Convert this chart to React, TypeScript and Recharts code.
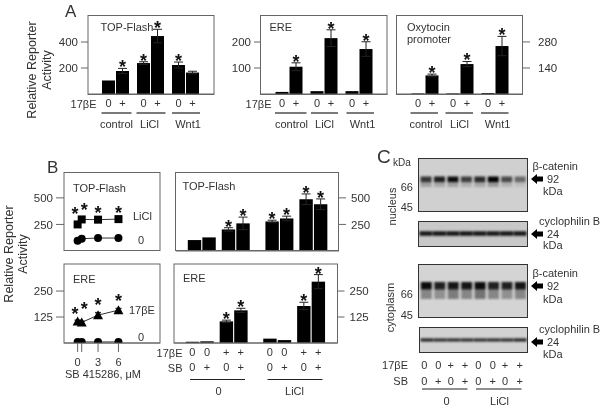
import React from 'react';
import { BarChart, Bar, Cell, ComposedChart, ErrorBar, Line, XAxis, YAxis } from 'recharts';

const font = '"Liberation Sans", Arial, sans-serif';
const ink = '#333';
const edge = '#666';

// panel A, three reporters
const groupRowA = ['0', '+', '0', '+', '0', '+'];
const topFlashA = [104, 177, 238, 446, 223, 165];
const topFlashAErr = [0, 20, 10, 52, 23, 10];
const topFlashAStar = [0, 1, 1, 1, 1, 0];
const ereA = [8, 105, 11, 215, 11, 173];
const ereAErr = [0, 15, 0, 32, 0, 28];
const ereAStar = [0, 1, 0, 1, 0, 1];
const oxytocinA = [3, 100, 3, 161, 5, 258];
const oxytocinAErr = [0, 7, 0, 14, 0, 52];
const oxytocinAStar = [0, 1, 0, 1, 0, 1];

// panel B, dose response
const doses = [0, 0.6, 3, 6];
const doseTicks = [0, 0.6, 3, 6];
const topLiCl = [250, 297, 295, 300];
const topZero = [97, 116, 122, 122];
const topDoseStar = [388, 428, 397, 397];
const ereE2 = [104, 99, 134, 158];
const ereE2Err = [6, 6, 12, 8];
const ereZero = [5, 5, 5, 5];
const ereDoseStar = [159, 183, 203, 223];

// panel B, bars
const e2Row = ['0', '0', '+', '+', '0', '0', '+', '+'];
const sbRow = ['0', '+', '0', '+', '0', '+', '0', '+'];
const topFlashB = [103, 128, 203, 260, 278, 306, 487, 440];
const topFlashBErr = [0, 0, 16, 59, 12, 22, 50, 50];
const topFlashBStar = [0, 0, 1, 1, 1, 1, 1, 1];
const ereB = [6, 8, 104, 157, 21, 14, 178, 295];
const ereBErr = [0, 0, 6, 10, 0, 0, 18, 34];
const ereBStar = [0, 0, 1, 1, 0, 0, 1, 1];

// panel C, band density per lane
const nuclearCatenin = [0.75, 0.85, 0.95, 0.7, 0.8, 1, 0.65, 0.5];
const nuclearSmear = [0.25, 0.22, 0.25, 0.18, 0.22, 0.3, 0.16, 0.1];
const nuclearCyclophilin = [0.9, 0.9, 0.9, 0.9, 0.9, 0.9, 0.9, 0.9];
const cytoCatenin = [0.95, 0.85, 0.9, 0.9, 0.95, 0.85, 0.85, 0.9];
const cytoSmear = [0.4, 0.35, 0.45, 0.4, 0.5, 0.4, 0.35, 0.4];
const cytoCyclophilin = [0.85, 0.8, 0.8, 0.8, 0.8, 0.8, 0.8, 0.85];
const noSmear = [0.06, 0.06, 0.06, 0.06, 0.06, 0.06, 0.06, 0.06];

const gapsA = [1, 2, 1, 2, 1];
const gapsB = [2, 3, 2, 5, 2, 3, 2];

function buildRows(labels: string[], values: number[], errs: number[], stars: number[], gaps: number[]) {
  const rows: any[] = [];
  labels.forEach((label, i) => {
    rows.push({
      slot: label,
      value: values[i],
      err: errs[i] > 0 ? errs[i] : null,
      star: stars[i] ? values[i] + errs[i] : null,
    });
    for (let g = 0; g < (gaps[i] || 0); g++) rows.push({ slot: '' });
  });
  return rows;
}

// the two points next to dose 0 are close, so their stars get pushed apart
const starLabel = (dy: number, spread = 0) => (p: any) => {
  if (p.value == null || p.y == null) return <g />;
  const dx = spread && p.index === 0 ? -spread : spread && p.index === 1 ? spread : 0;
  return (
    <text x={p.x + dx} y={p.y + dy} textAnchor="middle" fontSize={18} fontWeight="bold" fontFamily={font} fill="#111">*</text>
  );
};

const tickRows = (p: any) => {
  const parts = String(p.payload.value).split('|');
  return (
    <g>
      {parts.map((t, i) => (
        <text key={i} x={p.x} y={p.y + i * 14.7} dy={5} textAnchor="middle" fontSize={11} fontFamily={font} fill={ink}>{t}</text>
      ))}
    </g>
  );
};

const wideBar = (w: number) => (p: any) => {
  if (p.height == null || p.value == null) return <g />;
  return <rect x={p.x + p.width / 2 - w / 2} y={p.y} width={w} height={p.height} fill="#000" />;
};

function BarPanel({ x, y, w, h, rows, top, ticks, side, padL, padR, barW, tickMargin }: any) {
  const plotLeft = side === 'left' ? 0 : 40;
  return (
    <div style={{ position: 'absolute', left: x - 40, top: y }}>
      <ComposedChart
        width={w + 80}
        height={h + 40}
        data={rows}
        barCategoryGap={0}
        margin={{ top: 0, bottom: 0, left: plotLeft, right: side === 'left' ? 40 : 0 }}
      >
        <XAxis
          dataKey="slot"
          height={40}
          interval={0}
          padding={{ left: padL, right: padR }}
          tick={tickRows}
          tickLine={false}
          axisLine={{ stroke: edge }}
        />
        <YAxis
          orientation={side}
          width={40}
          domain={[0, top]}
          ticks={ticks}
          allowDataOverflow
          axisLine={false}
          tickSize={7}
          tickMargin={tickMargin}
          tickLine={{ stroke: edge }}
          tick={{ fontSize: 11.5, fill: ink, fontFamily: font }}
        />
        <Bar dataKey="value" isAnimationActive={false} shape={wideBar(barW)}>
          <ErrorBar dataKey="err" direction="y" width={4.5} stroke="#222" strokeWidth={1} isAnimationActive={false} />
        </Bar>
        <Line dataKey="star" stroke="none" dot={false} isAnimationActive={false} label={starLabel(5)} />
      </ComposedChart>
    </div>
  );
}

const square = (p: any) => <rect key={p.index} x={p.cx - 4} y={p.cy - 4} width={8} height={8} fill="#000" />;
const circle = (p: any) => <circle key={p.index} cx={p.cx} cy={p.cy} r={4} fill="#000" />;
const triangle = (p: any) => (
  <path key={p.index} d={`M${p.cx} ${p.cy - 5}L${p.cx + 5} ${p.cy + 4}L${p.cx - 5} ${p.cy + 4}Z`} fill="#000" />
);

function DosePanel({ x, y, w, h, rows, top, ticks, upper, lower, upperDot, showAxis, upperErr }: any) {
  return (
    <div style={{ position: 'absolute', left: x - 40, top: y }}>
      <ComposedChart width={w + 40} height={h + (showAxis ? 40 : 0)} data={rows} margin={{ top: 0, bottom: 0, left: 0, right: 0 }}>
        <XAxis
          dataKey="dose"
          type="number"
          domain={[-2, 12.1]}
          allowDataOverflow
          hide={!showAxis}
          height={40}
          ticks={doseTicks}
          interval={0}
          tickFormatter={(v: number) => (v === 0.6 ? '' : String(v))}
          tickSize={9}
          tickMargin={6}
          tickLine={{ stroke: edge }}
          axisLine={{ stroke: edge }}
          tick={{ fontSize: 11, fill: ink, fontFamily: font }}
        />
        <YAxis
          width={40}
          domain={[0, top]}
          ticks={ticks}
          allowDataOverflow
          axisLine={false}
          tickSize={8}
          tickMargin={3}
          tickLine={{ stroke: edge }}
          tick={{ fontSize: 11.5, fill: ink, fontFamily: font }}
        />
        <Line dataKey={upper} stroke={ink} strokeWidth={1} isAnimationActive={false} dot={upperDot}>
          {upperErr ? <ErrorBar dataKey={upperErr} direction="y" width={3} stroke="#333" isAnimationActive={false} /> : null}
        </Line>
        <Line dataKey={lower} stroke={ink} strokeWidth={1} isAnimationActive={false} dot={circle} />
        <Line dataKey="star" stroke="none" dot={false} isAnimationActive={false} label={starLabel(10, 2.5)} />
      </ComposedChart>
    </div>
  );
}

// one western blot, stacked from the bottom of the gel: gap, smear, band
function Blot({ x, y, w, h, density, smear, bandAt, bandH, smearH, bg, blur, catGap }: any) {
  const rows = density.map((d: number, i: number) => ({
    lane: i,
    base: bandAt - bandH / 2 - smearH,
    smear: smearH,
    band: bandH,
  }));
  return (
    <div style={{ position: 'absolute', left: x, top: y, width: w, height: h, background: bg, boxSizing: 'border-box', border: '1.5px solid #333', overflow: 'hidden' }}>
      <div style={{ filter: `blur(${blur}px)`, marginLeft: -1.5 }}>
        <BarChart width={w} height={h - 3} data={rows} barCategoryGap={catGap} margin={{ top: 0, bottom: 0, left: 0, right: 0 }}>
          <XAxis dataKey="lane" hide padding={{ left: 2.5, right: 0 }} />
          <YAxis hide domain={[0, h]} allowDataOverflow />
          <Bar dataKey="base" stackId="gel" fill="none" isAnimationActive={false} />
          <Bar dataKey="smear" stackId="gel" fill="#111" isAnimationActive={false}>
            {smear.map((s: number, i: number) => <Cell key={i} fillOpacity={s} />)}
          </Bar>
          <Bar dataKey="band" stackId="gel" fill="#000" isAnimationActive={false}>
            {density.map((d: number, i: number) => <Cell key={i} fillOpacity={d} />)}
          </Bar>
        </BarChart>
      </div>
    </div>
  );
}

const T = ({ x, y, size = 11, anchor = 'start', rotate, children }: any) => (
  <text
    x={x}
    y={y}
    fontSize={size}
    fontFamily={font}
    fill={ink}
    textAnchor={anchor}
    dominantBaseline="central"
    transform={rotate ? `rotate(${rotate} ${x} ${y})` : undefined}
  >
    {children}
  </text>
);

const Rule = ({ x1, x2, y }: any) => <line x1={x1} x2={x2} y1={y} y2={y} stroke="#222" strokeWidth={1.2} />;

const Frame = ({ x, y, w, h }: any) => <rect x={x} y={y} width={w} height={h} fill="none" stroke={edge} strokeWidth={1} />;

const Arrow = ({ x, y }: any) => (
  <path d={`M${x} ${y}L${x + 6} ${y - 5}V${y - 2.5}H${x + 12}V${y + 2.5}H${x + 6}V${y + 5}Z`} fill="#000" />
);

export default function App() {
  const doseTop = doses.map((dose, i) => ({ dose, licl: topLiCl[i], zero: topZero[i], star: topDoseStar[i] }));
  const doseEre = doses.map((dose, i) => ({ dose, e2: ereE2[i], err: ereE2Err[i], zero: ereZero[i], star: ereDoseStar[i] }));
  const laneLabels = e2Row.map((e, i) => `${e}|${sbRow[i]}`);
  const laneX = [424.3, 438.3, 450.7, 465, 478.3, 492.7, 505, 519.7];

  return (
    <div style={{ position: 'absolute', left: 0, top: 0, width: 600, height: 409, background: '#fff', overflow: 'hidden', filter: 'blur(0.3px)' }}>
      <BarPanel x={88} y={15} w={126} h={79} top={608} ticks={[200, 400]} side="left" padL={17} padR={18} barW={13} tickMargin={3}
        rows={buildRows(groupRowA, topFlashA, topFlashAErr, topFlashAStar, gapsA)} />
      <BarPanel x={260.5} y={15} w={126.5} h={79} top={304} ticks={[100, 200]} side="left" padL={17.5} padR={18} barW={13} tickMargin={3}
        rows={buildRows(groupRowA, ereA, ereAErr, ereAStar, gapsA)} />
      <BarPanel x={396.5} y={15} w={126} h={79} top={425} ticks={[140, 280]} side="right" padL={17.5} padR={17.5} barW={13} tickMargin={8}
        rows={buildRows(groupRowA, oxytocinA, oxytocinAErr, oxytocinAStar, gapsA)} />

      <DosePanel x={64} y={172.5} w={96} h={78} top={734} ticks={[250, 500]} rows={doseTop} upper="licl" lower="zero" upperDot={square} />
      <DosePanel x={64} y={264} w={96} h={79} top={380} ticks={[125, 250]} rows={doseEre} upper="e2" lower="zero" upperDot={triangle} upperErr="err" showAxis />

      <BarPanel x={175.5} y={172.5} w={163} h={78} top={734} ticks={[250, 500]} side="right" padL={16} padR={16} barW={13.4} tickMargin={5}
        rows={buildRows(laneLabels, topFlashB, topFlashBErr, topFlashBStar, gapsB).map((r) => ({ ...r, slot: '' }))} />
      <BarPanel x={174} y={264} w={163.5} h={79} top={380} ticks={[125, 250]} side="right" padL={16} padR={16.8} barW={13.4} tickMargin={5}
        rows={buildRows(laneLabels, ereB, ereBErr, ereBStar, gapsB)} />

      <Blot x={417.5} y={157.5} w={110} h={54.5} density={nuclearCatenin} smear={nuclearSmear} bandAt={33} bandH={6} smearH={5} bg="#d0d0d0" blur={1.1} catGap="8%" />
      <Blot x={417.5} y={221} w={110} h={26} density={nuclearCyclophilin} smear={noSmear} bandAt={13} bandH={5} smearH={2} bg="#c8c8c8" blur={1} catGap={0} />
      <Blot x={417.5} y={264} w={110} h={54} density={cytoCatenin} smear={cytoSmear} bandAt={32} bandH={8} smearH={10} bg="#d4d4d4" blur={1.3} catGap="10%" />
      <Blot x={418.5} y={326.5} w={109} h={26} density={cytoCyclophilin} smear={noSmear} bandAt={12.5} bandH={3.5} smearH={1} bg="#d2d2d2" blur={0.8} catGap={0} />

      <svg width={600} height={409} style={{ position: 'absolute', left: 0, top: 0, pointerEvents: 'none' }}>
        <Frame x={88} y={15.5} w={126} h={79} />
        <Frame x={260.5} y={15.5} w={126.5} h={79} />
        <Frame x={396.5} y={15.5} w={126} h={79} />
        <Frame x={64} y={172.5} w={96} h={78} />
        <Frame x={64} y={264} w={96} h={79} />
        <Frame x={175.5} y={172.5} w={163} h={78} />
        <Frame x={174} y={264} w={163.5} h={79} />

        <T x={65} y={11} size={17}>A</T>
        <T x={47} y={167} size={17}>B</T>
        <T x={377} y={156} size={19}>C</T>

        <T x={32} y={70} size={12.5} anchor="middle" rotate={-90}>Relative Reporter</T>
        <T x={47} y={70} size={12.5} anchor="middle" rotate={-90}>Activity</T>
        <T x={9} y={254} size={12.5} anchor="middle" rotate={-90}>Relative Reporter</T>
        <T x={23} y={254} size={12.5} anchor="middle" rotate={-90}>Activity</T>

        <T x={100.5} y={27}>TOP-Flash</T>
        <T x={269.5} y={27}>ERE</T>
        <T x={407} y={27}>Oxytocin</T>
        <T x={407} y={39}>promoter</T>
        <T x={96.5} y={104} anchor="end">17βE</T>
        <T x={271.5} y={104} anchor="end">17βE</T>

        <Rule x1={101.5} x2={131.5} y={113} />
        <Rule x1={136.5} x2={165.5} y={113} />
        <Rule x1={172} x2={200} y={113} />
        <Rule x1={275} x2={306.5} y={113} />
        <Rule x1={311} x2={338} y={113} />
        <Rule x1={346.5} x2={374} y={113} />
        <Rule x1={410.5} x2={438} y={113} />
        <Rule x1={445.5} x2={473} y={113} />
        <Rule x1={481} x2={508.5} y={113} />

        <T x={116.5} y={124} anchor="middle">control</T>
        <T x={149.5} y={124} anchor="middle">LiCl</T>
        <T x={188} y={124} anchor="middle">Wnt1</T>
        <T x={291.5} y={124} anchor="middle">control</T>
        <T x={324.5} y={124} anchor="middle">LiCl</T>
        <T x={362.5} y={124} anchor="middle">Wnt1</T>
        <T x={426} y={124} anchor="middle">control</T>
        <T x={459.5} y={124} anchor="middle">LiCl</T>
        <T x={497.5} y={124} anchor="middle">Wnt1</T>

        <T x={73} y={187.5}>TOP-Flash</T>
        <T x={73} y={279}>ERE</T>
        <T x={182.5} y={186}>TOP-Flash</T>
        <T x={183} y={278}>ERE</T>
        <T x={133} y={215.5}>LiCl</T>
        <T x={141} y={239.5} anchor="middle">0</T>
        <T x={129} y={310}>17βE</T>
        <T x={141} y={336.5} anchor="middle">0</T>
        <T x={103} y={374} anchor="middle">SB 415286, μM</T>

        <T x={182.5} y={353} anchor="end">17βE</T>
        <T x={182.5} y={367.5} anchor="end">SB</T>
        <Rule x1={190} x2={245} y={379.5} />
        <Rule x1={267.5} x2={322.5} y={379.5} />
        <T x={218.5} y={390.5} anchor="middle">0</T>
        <T x={294.5} y={390.5} anchor="middle">LiCl</T>

        <T x={393} y={162} size={10}>kDa</T>
        <T x={391.5} y={206.5} anchor="middle" rotate={-90}>nucleus</T>
        <T x={390} y={307.5} anchor="middle" rotate={-90}>cytoplasm</T>
        <T x={413} y={187} anchor="end">66</T>
        <T x={413} y={207} anchor="end">45</T>
        <T x={413} y={294} anchor="end">66</T>
        <T x={413} y={315} anchor="end">45</T>

        <T x={532.5} y={166}>β-catenin</T>
        <Arrow x={531} y={179} />
        <T x={547} y={179}>92</T>
        <T x={543} y={191}>kDa</T>
        <T x={539} y={221}>cyclophilin B</T>
        <Arrow x={531} y={234} />
        <T x={547} y={233.5}>24</T>
        <T x={543} y={245}>kDa</T>
        <T x={532.5} y={273}>β-catenin</T>
        <Arrow x={531} y={286} />
        <T x={547} y={286}>92</T>
        <T x={543} y={299}>kDa</T>
        <T x={539} y={329}>cyclophilin B</T>
        <Arrow x={531} y={342} />
        <T x={547} y={342}>24</T>
        <T x={543} y={354}>kDa</T>

        <T x={408} y={364.5} anchor="end">17βE</T>
        <T x={408} y={380.5} anchor="end">SB</T>
        {e2Row.map((t, i) => <T key={i} x={laneX[i]} y={364.5} anchor="middle">{t}</T>)}
        {sbRow.map((t, i) => <T key={i} x={laneX[i]} y={380.5} anchor="middle">{t}</T>)}
        <Rule x1={422} x2={467.5} y={389} />
        <Rule x1={476} x2={521.5} y={389} />
        <T x={446.5} y={401} anchor="middle">0</T>
        <T x={499.5} y={401} anchor="middle">LiCl</T>
      </svg>
    </div>
  );
}
